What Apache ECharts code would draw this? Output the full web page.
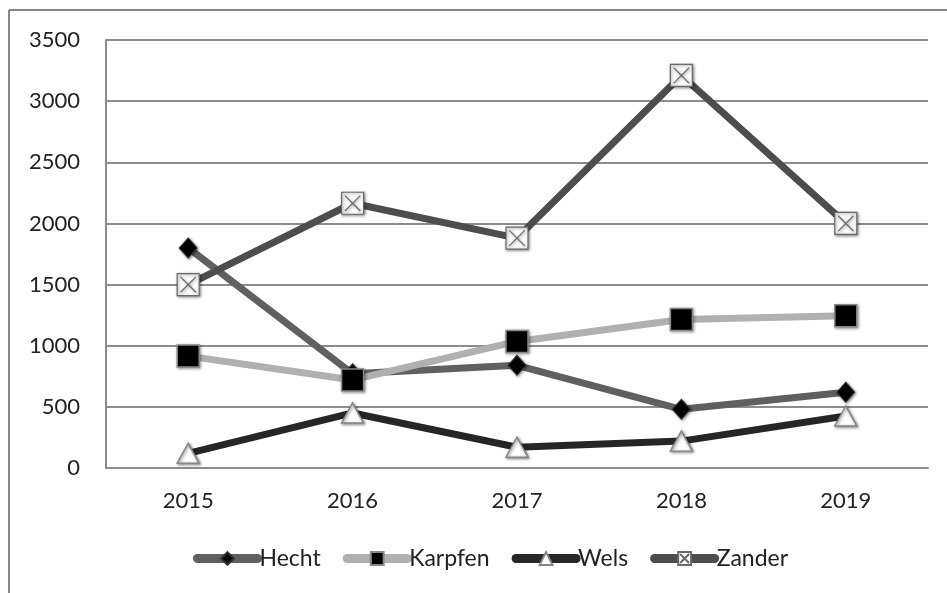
<!DOCTYPE html>
<html>
<head>
<meta charset="utf-8">
<script src="https://cdn.jsdelivr.net/npm/echarts@6/dist/echarts.min.js"></script>
<style>
  html, body { margin: 0; padding: 0; background: #fff; }
  #chart { width: 947px; height: 593px; }
</style>
</head>
<body>
<div id="chart"></div>
<script>
// Jahre + Fangmengen
const years = ['2015', '2016', '2017', '2018', '2019'];
const hecht = [1800, 770, 840, 480, 620];
const karpfen = [915, 720, 1035, 1215, 1245];
const wels = [120, 450, 170, 220, 425];
const zander = [1500, 2165, 1880, 3210, 2000];

const FONT = 'Lato, "Open Sans", sans-serif';
const shadow = { shadowBlur: 3, shadowColor: 'rgba(0,0,0,0.45)', shadowOffsetX: 1, shadowOffsetY: 1 };

// weisses Quadrat mit X
const xBox = 'path://M0,0 L20,0 L20,20 L0,20 Z M3,3 L17,17 M17,3 L3,17';

const chart = echarts.init(document.getElementById('chart'), null, { renderer: 'canvas' });

function mkSeries(name, data, lineColor, symbol, size, fill, border, bw) {
    return {
        name, type: 'line', data,
        symbol, symbolSize: size,
        lineStyle: { color: lineColor, width: 7 },
        itemStyle: Object.assign({ color: fill, borderColor: border, borderWidth: bw, opacity: 1 }, shadow),
        emphasis: { disabled: true },
        animation: false
    };
}

chart.setOption({
    backgroundColor: '#fff',
    textStyle: { fontFamily: FONT },
    grid: { left: 106, right: 19, top: 40, bottom: 125 },
    legend: {
        bottom: 18,
        left: 188,
        itemWidth: 60,
        itemHeight: 16,
        itemGap: 22,
        lineStyle: { width: 9, cap: 'round' },
        textStyle: { fontFamily: FONT, fontSize: 23, color: '#222', padding: [0, 0, 0, -3] },
        data: ['Hecht', 'Karpfen', 'Wels', 'Zander']
    },
    xAxis: {
        type: 'category',
        data: years,
        boundaryGap: true,
        axisLine: { lineStyle: { color: '#8c8c8c', width: 2 } },
        axisTick: { show: false },
        axisLabel: { color: '#222', fontSize: 22, fontFamily: FONT, margin: 22 }
    },
    yAxis: {
        type: 'value',
        min: 0, max: 3500, interval: 500,
        axisLine: { show: true, lineStyle: { color: '#8c8c8c', width: 2 } },
        axisTick: { show: false },
        splitLine: { lineStyle: { color: '#8c8c8c', width: 2 } },
        axisLabel: { color: '#222', fontSize: 22, fontFamily: FONT, margin: 26, formatter: v => String(v) }
    },
    series: [
        mkSeries('Hecht', hecht, '#606060', 'diamond', [18, 20], '#000', '#333', 1),
        mkSeries('Karpfen', karpfen, '#b0b0b0', 'rect', 22, '#000', '#888', 1.5),
        mkSeries('Wels', wels, '#262626', 'triangle', [22, 20], '#fff', '#888', 1.5),
        mkSeries('Zander', zander, '#4d4d4d', xBox, 22, '#fff', '#6a6a6a', 1.2)
    ],
    graphic: [
        { type: 'line', shape: { x1: 9, y1: 10, x2: 947, y2: 10 }, style: { stroke: '#878787', lineWidth: 2 }, silent: true },
        { type: 'line', shape: { x1: 9, y1: 10, x2: 9, y2: 593 }, style: { stroke: '#878787', lineWidth: 2 }, silent: true }
    ]
});
</script>
</body>
</html>
